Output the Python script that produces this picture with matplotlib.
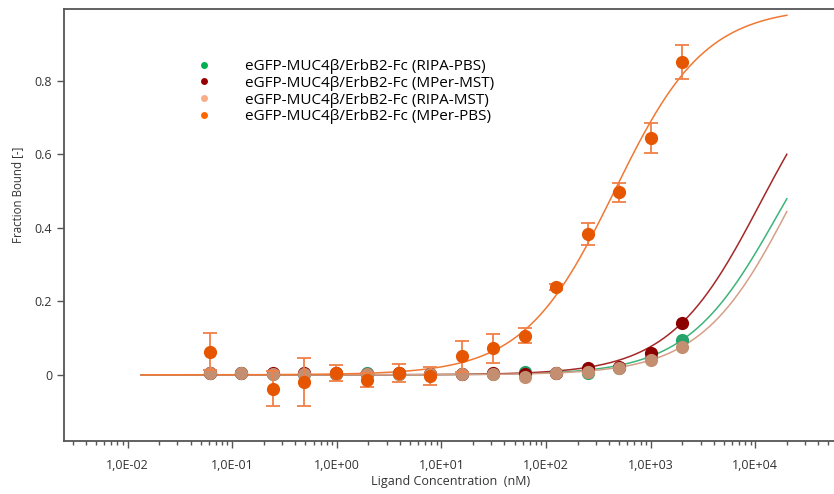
import numpy as np
import matplotlib
matplotlib.use("Agg")
import matplotlib.pyplot as plt
from matplotlib.ticker import LogLocator, FuncFormatter, NullFormatter
from matplotlib.lines import Line2D

plt.rcParams['font.family'] = ['Open Sans', 'DejaVu Sans']

# ligand concentrations (nM), 1:1 serial dilution
conc = [0.061, 0.122, 0.244, 0.488, 0.977, 1.95, 3.91, 7.81, 15.6, 31.3,
        62.5, 125, 250, 500, 1000, 2000]

ripa_pbs = [0.004, 0.005, 0.003, 0.003, 0.002, 0.004, 0.003, 0.002, 0.002, 0.003,
            0.009, 0.005, 0.005, 0.018, 0.045, 0.095]
mper_mst = [0.005, 0.005, 0.004, 0.004, 0.004, 0.003, 0.004, 0.003, 0.003, 0.005,
            0.003, 0.006, 0.018, 0.020, 0.059, 0.142]
ripa_mst = [0.004, 0.004, 0.002, 0.002, 0.002, 0.003, 0.001, 0.001, 0.002, 0.002,
            -0.006, 0.005, 0.009, 0.018, 0.041, 0.077]
mper_pbs = [0.063, np.nan, -0.038, -0.019, 0.006, -0.014, 0.005, -0.003, 0.050, 0.072,
            0.106, 0.240, 0.384, 0.497, 0.644, 0.851]
mper_pbs_err = [0.050, 0.0, 0.048, 0.065, 0.022, 0.018, 0.024, 0.025, 0.043, 0.039,
                0.020, 0.008, 0.030, 0.026, 0.042, 0.046]

# fit parameters (Bmax, Kd in nM)
fits = {
    'RIPA-PBS': (0.869, 16290),
    'MPer-MST': (0.935, 11170),
    'RIPA-MST': (0.945, 22550),
    'MPer-PBS': (1.0, 451),
}

xtick_vals = [1e-2, 1e-1, 1e0, 1e1, 1e2, 1e3, 1e4]

labels = ['eGFP-MUC4β/ErbB2-Fc (RIPA-PBS)', 'eGFP-MUC4β/ErbB2-Fc (MPer-MST)',
          'eGFP-MUC4β/ErbB2-Fc (RIPA-MST)', 'eGFP-MUC4β/ErbB2-Fc (MPer-PBS)']
point_colors = ['#25a36a', '#8c0000', '#c38f70', '#e65500']
line_colors = ['#3cb47a', '#a52828', '#d6a088', '#f07832']
legend_colors = ['#00b050', '#960000', '#f8ad87', '#ff6600']

fig = plt.figure(figsize=(8.34, 4.94), dpi=100)
ax = fig.add_axes([64 / 834, 1 - 441 / 494, (838 - 64) / 834, (441 - 9) / 494])

xfit = np.logspace(np.log10(0.0135), np.log10(20000), 400)
keys = list(fits.keys())
series = [ripa_pbs, mper_mst, ripa_mst]
for i in range(4):
    bmax, kd = fits[keys[i]]
    ax.plot(xfit, bmax * xfit / (kd + xfit), color=line_colors[i], lw=1.1, zorder=2)

for i in range(3):
    ax.plot(conc, series[i], 'o', color=point_colors[i], ms=9.5, mec='none', zorder=3 + i)

ax.errorbar(conc, mper_pbs, yerr=mper_pbs_err, fmt='o', color=point_colors[3],
            ms=9.5, mec='none', ecolor='#f08048', elinewidth=1.3, capsize=5,
            capthick=1.3, zorder=7)

ax.set_xscale('log')
ax.set_xlim(10 ** -2.607, 10 ** 4.79)
ax.set_ylim(-0.18, 0.995)

ax.set_xticks(xtick_vals)
ax.xaxis.set_minor_locator(LogLocator(base=10, subs=np.arange(2, 10), numticks=20))
ax.xaxis.set_minor_formatter(NullFormatter())


def sci_comma(v, pos):
    e = int(round(np.log10(v)))
    return '1,0E%s%02d' % ('+' if e >= 0 else '-', abs(e))


ax.xaxis.set_major_formatter(FuncFormatter(sci_comma))
ax.set_yticks([0, 0.2, 0.4, 0.6, 0.8])
ax.set_yticklabels(['0', '0.2', '0.4', '0.6', '0.8'])

for s in ax.spines.values():
    s.set_color('#555555')
    s.set_linewidth(1.3)
ax.tick_params(axis='both', which='major', direction='out', length=5, width=1,
               color='#555555', labelsize=9, labelcolor='#333333')
ax.tick_params(axis='x', which='minor', direction='out', length=3, width=1, color='#555555')
ax.tick_params(axis='x', which='major', pad=8)

ax.set_xlabel('Ligand Concentration  (nM)', fontsize=9, color='#333333', labelpad=2)
ax.set_ylabel('Fraction Bound [-]', fontsize=8.3, color='#333333')
ax.yaxis.set_label_coords(-40 / 774, (441 - 195) / 432)

handles = [Line2D([], [], ls='none', marker='o', ms=5, color=c, mec='none') for c in legend_colors]
fig.legend(handles, labels, loc='upper left', bbox_to_anchor=(196 / 834, 1 - 59 / 494),
           frameon=False, fontsize=11, labelspacing=0.12, handletextpad=2.2,
           handlelength=1.0, borderpad=0, borderaxespad=0)

fig.savefig('out.png', dpi=100)
